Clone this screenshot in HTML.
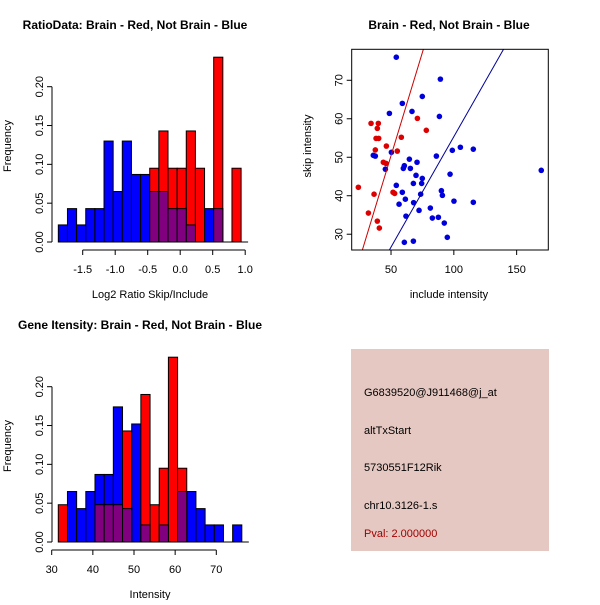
<!DOCTYPE html>
<html><head><meta charset="utf-8"><style>
html,body{margin:0;padding:0;background:#fff;}
svg text{font-family:"Liberation Sans",sans-serif;}
</style></head><body>
<svg id="root" width="600" height="600" viewBox="0 0 600 600" xmlns="http://www.w3.org/2000/svg">
<rect width="600" height="600" fill="#fff"/>
<g id="p1"></g>
<g id="p2"></g>
<g id="p3"></g>
<g>
<rect x="351" y="349" width="198" height="202" fill="#e6c8c2"/>
<text x="364" y="396" font-size="11" fill="#000">G6839520@J911468@j_at</text>
<text x="364" y="434" font-size="11" fill="#000">altTxStart</text>
<text x="364" y="471" font-size="11" fill="#000">5730551F12Rik</text>
<text x="364" y="509" font-size="11" fill="#000">chr10.3126-1.s</text>
<text x="364" y="537" font-size="11" fill="#a00000">Pval: 2.000000</text>
</g>
</svg>
<script>
// ---- Panel 1 data: log2 ratio histogram
const ratioBreakStart = -1.875;
const ratioBinWidth = 0.1406;
const ratioBlue = [0.022,0.043,0.022,0.043,0.043,0.13,0.065,0.13,0.087,0.087,0.065,0.065,0.043,0.043,0.022,0,0.043,0.043,0,0];
const ratioRed  = [0,0,0,0,0,0,0,0,0,0,0.095,0.143,0.095,0.095,0.143,0.095,0,0.238,0,0.095];
const ratioXTicks = [-1.5,-1.0,-0.5,0.0,0.5,1.0];
const ratioXTickLabels = ["-1.5","-1.0","-0.5","0.0","0.5","1.0"];
const freqTicks = [0,0.05,0.10,0.15,0.20];
const freqTickLabels = ["0.00","0.05","0.10","0.15","0.20"];
// ---- Panel 3 data: intensity histogram
const intBreakStart = 31.6;
const intBinWidth = 2.23;
const intBlue = [0,0.065,0.043,0.065,0.087,0.087,0.174,0.043,0.152,0.022,0,0.022,0,0.065,0.065,0.043,0.022,0.022,0,0.022];
const intRed  = [0.048,0,0,0,0.048,0.048,0.048,0.143,0,0.19,0.048,0.095,0.238,0.095,0,0,0,0,0,0];
const intXTicks = [30,40,50,60,70];
const intXTickLabels = ["30","40","50","60","70"];
// ---- Panel 2 data: scatter
const redX = [24.0,34.1,39.9,39.1,38.1,40.2,37.5,46.3,43.9,46.0,58.2,55.0,71.0,78.1,36.5,32.0,39.1,40.7,51.6,52.9];
const redY = [42.2,58.8,58.8,57.5,54.9,54.9,51.9,52.9,48.7,48.4,55.2,51.6,60.1,57.0,40.4,35.5,33.4,31.6,40.9,40.6];
const blueX = [54.2,89.3,74.9,59.0,66.7,48.7,88.5,35.9,37.5,50.3,45.5,64.6,70.7,86.1,98.8,105.2,115.5,59.8,60.6,65.4,69.9,74.9,74.4,67.8,97.0,54.2,59.0,73.6,90.1,90.9,56.4,61.4,68.0,61.9,72.3,81.3,82.9,87.7,92.4,94.8,60.6,67.8,100.1,115.5,169.6];
const blueY = [76.0,70.3,65.8,64.0,61.9,61.4,60.6,50.5,50.3,51.3,46.9,49.5,48.7,50.3,51.8,52.6,52.1,47.1,47.8,47.1,45.3,44.5,43.2,43.2,45.6,42.7,40.9,40.4,41.3,40.1,37.8,39.1,38.2,34.7,36.2,36.8,34.2,34.4,32.9,29.2,27.9,28.2,38.6,38.3,46.6];
const redLine = [-3.3,1.074];   // intercept, slope
const blueLine = [-2.05,0.574];
const scatXTicks = [50,100,150];
const scatXTickLabels = ["50","100","150"];
const scatYTicks = [30,40,50,60,70];
const scatYTickLabels = ["30","40","50","60","70"];

const NS="http://www.w3.org/2000/svg";
function mk(parent,tag,attrs,text){const e=document.createElementNS(NS,tag);for(const k in attrs)e.setAttribute(k,attrs[k]);if(text!==undefined)e.textContent=text;parent.appendChild(e);return e;}

function histogram(g,oy,title,titleX,xlabel,bStart,bW,blue,red,xt,xtl,xMap){
  const yMap=v=>oy+242-v*(155.3/0.2);
  let t=mk(g,'text',{x:titleX,y:oy+29,'font-size':12,'font-weight':'bold','text-anchor':'middle'},title);
  
  
  const n=blue.length;
  for(let i=0;i<n;i++){
    const x0=xMap(bStart+i*bW),x1=xMap(bStart+(i+1)*bW);
    if(blue[i]>0){let r=mk(g,'rect',{x:x0,y:yMap(blue[i]),width:x1-x0,height:yMap(0)-yMap(blue[i]),fill:'#0000ff',stroke:'#000','stroke-width':1});
      
      }
  }
  for(let i=0;i<n;i++){
    const x0=xMap(bStart+i*bW),x1=xMap(bStart+(i+1)*bW);
    if(red[i]>0){let r=mk(g,'rect',{x:x0,y:yMap(red[i]),width:x1-x0,height:yMap(0)-yMap(red[i]),fill:'#ff0000',stroke:'#000','stroke-width':1});
      
      }
  }
  for(let i=0;i<n;i++){
    const x0=xMap(bStart+i*bW),x1=xMap(bStart+(i+1)*bW);
    const m=Math.min(blue[i],red[i]);
    if(m>0){let r=mk(g,'rect',{x:x0,y:yMap(m),width:x1-x0,height:yMap(0)-yMap(m),fill:'#800080',stroke:'#000','stroke-width':1});
      
      }
  }
  // y axis
  const ax=52;
  mk(g,'line',{x1:ax,x2:ax,y1:yMap(0),y2:yMap(0.2),stroke:'#000'});
  freqTicks.forEach((v,i)=>{
    mk(g,'line',{x1:ax-5,x2:ax,y1:yMap(v),y2:yMap(v),stroke:'#000'});
    let l=mk(g,'text',{x:0,y:0,'font-size':11,'text-anchor':'middle',transform:`translate(${ax-9},${yMap(v)}) rotate(-90)`},freqTickLabels[i]);
    
    
  });
  // baseline under bars
  mk(g,'line',{x1:xMap(bStart),x2:xMap(bStart+n*bW)+7,y1:yMap(0),y2:yMap(0),stroke:'#000'});
  // x axis
  const ay=oy+250;
  mk(g,'line',{x1:xMap(xt[0]),x2:xMap(xt[xt.length-1]),y1:ay,y2:ay,stroke:'#000'});
  xt.forEach((v,i)=>{
    mk(g,'line',{x1:xMap(v),x2:xMap(v),y1:ay,y2:ay+5,stroke:'#000'});
    let l=mk(g,'text',{x:xMap(v),y:ay+23,'font-size':11,'text-anchor':'middle'},xtl[i]);
    
    
  });
  let xl=mk(g,'text',{x:150,y:oy+298,'font-size':11,'text-anchor':'middle'},xlabel);
  
  
  let yl=mk(g,'text',{x:0,y:0,'font-size':11,'text-anchor':'middle',transform:`translate(11,${oy+146}) rotate(-90)`},'Frequency');
  
  
}
histogram(document.getElementById('p1'),0,'RatioData: Brain - Red, Not Brain - Blue',135,'Log2 Ratio Skip/Include',
  ratioBreakStart,ratioBinWidth,ratioBlue,ratioRed,ratioXTicks,ratioXTickLabels,v=>180.2+v*65);
histogram(document.getElementById('p3'),300,'Gene Itensity: Brain - Red, Not Brain - Blue',140,'Intensity',
  intBreakStart,intBinWidth,intBlue,intRed,intXTicks,intXTickLabels,v=>51.7+(v-30)*4.115);

// scatter
(function(){
  const g=document.getElementById('p2');
  const L=351.7,R=548.3,T=49.3,B=250;
  const x0=18.7,x1=175.2,y0=25.9,y1=78.05;
  const xM=v=>L+(v-x0)/(x1-x0)*(R-L), yM=v=>B-(v-y0)/(y1-y0)*(B-T);
  let t=mk(g,'text',{x:449,y:29,'font-size':12,'font-weight':'bold','text-anchor':'middle'},'Brain - Red, Not Brain - Blue');
  
  
  mk(mk(g,'defs',{}),'clipPath',{id:'sc'}).appendChild(Object.assign(document.createElementNS(NS,'rect'),{}));
  const cr=g.querySelector('#sc rect');cr.setAttribute('x',L);cr.setAttribute('y',T);cr.setAttribute('width',R-L);cr.setAttribute('height',B-T);
  blueX.forEach((v,i)=>{let c=mk(g,'circle',{cx:xM(v),cy:yM(blueY[i]),r:2.8,fill:'#0000dd'});
    
    });
  redX.forEach((v,i)=>{let c=mk(g,'circle',{cx:xM(v),cy:yM(redY[i]),r:2.8,fill:'#dd0000'});
    
    });
  const lg=mk(g,'g',{'clip-path':'url(#sc)'});
  [[redLine,'#cc0000','fit-line-brain'],[blueLine,'#000099','fit-line-not-brain']].forEach(([ln,col,nm])=>{
    let l=mk(lg,'line',{x1:xM(x0),y1:yM(ln[0]+ln[1]*x0),x2:xM(x1),y2:yM(ln[0]+ln[1]*x1),stroke:col,'stroke-width':1});
    
    
  });
  mk(g,'rect',{x:L,y:T,width:R-L,height:B-T,fill:'none',stroke:'#000'});
  scatXTicks.forEach((v,i)=>{
    mk(g,'line',{x1:xM(v),x2:xM(v),y1:B,y2:B+5,stroke:'#000'});
    let l=mk(g,'text',{x:xM(v),y:B+23,'font-size':11,'text-anchor':'middle'},scatXTickLabels[i]);
    
    
  });
  scatYTicks.forEach((v,i)=>{
    mk(g,'line',{x1:L-5,x2:L,y1:yM(v),y2:yM(v),stroke:'#000'});
    let l=mk(g,'text',{x:0,y:0,'font-size':11,'text-anchor':'middle',transform:`translate(${L-9},${yM(v)}) rotate(-90)`},scatYTickLabels[i]);
    
    
  });
  let xl=mk(g,'text',{x:449,y:298,'font-size':11,'text-anchor':'middle'},'include intensity');
  
  
  let yl=mk(g,'text',{x:0,y:0,'font-size':11,'text-anchor':'middle',transform:`translate(311,146) rotate(-90)`},'skip intensity');
  
  
})();
</script>
</body></html>
